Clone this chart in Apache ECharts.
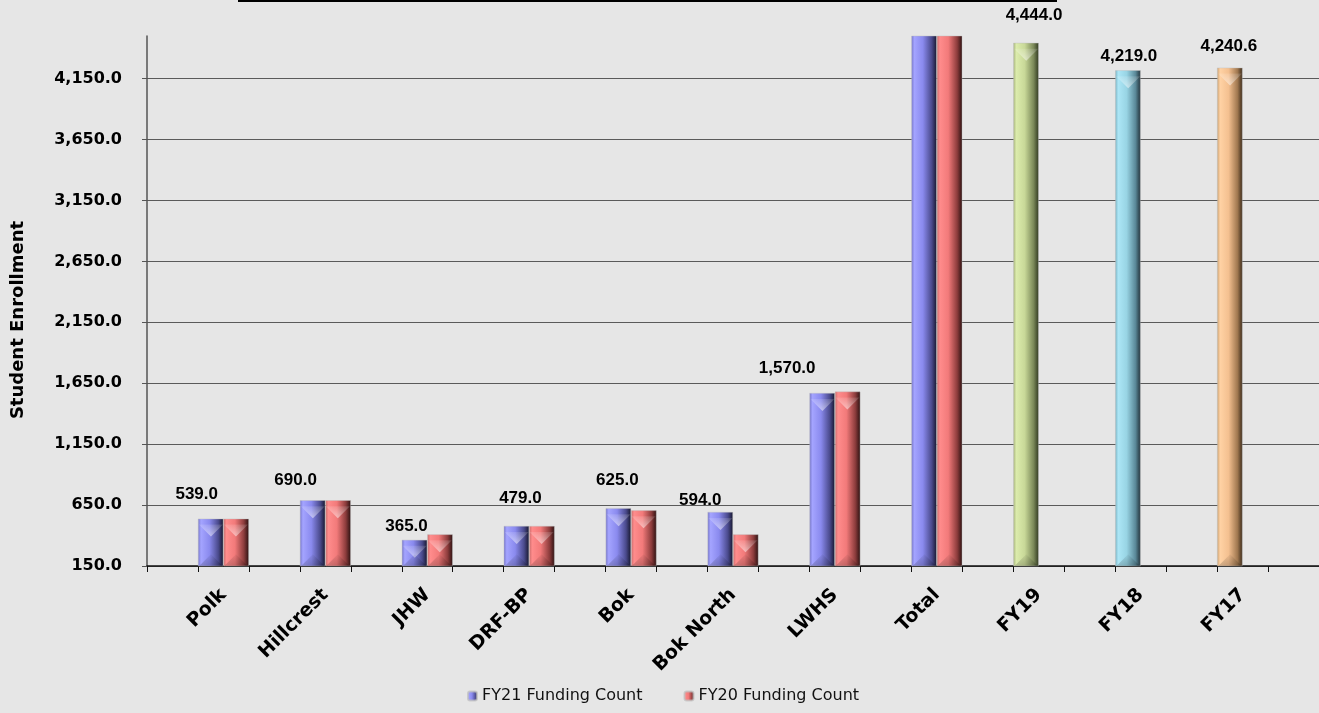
<!DOCTYPE html>
<html>
<head>
<meta charset="utf-8">
<script src="https://cdn.jsdelivr.net/npm/echarts@6/dist/echarts.min.js"></script>
<style>
html,body{margin:0;padding:0;background:#e6e6e6;}
#chart{width:1319px;height:713px;}
</style>
</head>
<body>
<div id="chart"></div>
<script>
// ---- data ----
const categories = ['Polk','Hillcrest','JHW','DRF-BP','Bok','Bok North','LWHS','Total','FY19','FY18','FY17'];
const fy21Values = [539, 690, 365, 479, 625, 594, 1570, 4862, 4444, 4219, 4240.6];
const fy20Values = [539, 690, 410, 479, 607, 410, 1582, 4717, null, null, null];
const seriesNames = ['FY21 Funding Count', 'FY20 Funding Count'];
const yTicks = [150, 650, 1150, 1650, 2150, 2650, 3150, 3650, 4150];

// ---- styling (not data) ----
function grad(stops){
  return {type:'linear',x:0,y:0,x2:1,y2:0,colorStops:stops.map((c,i)=>({offset:[0,0.12,0.45,0.8,1][i],color:c}))};
}
const blue = grad(['#7474c8','#a4a4ff','#8a8aee','#4a4a8c','#16162c']);
const red = grad(['#c86a6a','#ff8c8c','#f27a7a','#8c3c3c','#2a1010']);
const itemColors = {
  'FY19': grad(['#a4b07a','#dcecac','#c8d898','#7a8858','#303820']),
  'FY18': grad(['#7ab0c0','#ace6f6','#98d4e4','#5a8898','#203038']),
  'FY17': grad(['#c8a070','#ffd2a4','#f4c090','#a07850','#382818'])
};
// label nudges [dx, dy] per category (styling)
const labelNudge = {
  'Polk':[-14,-11],'Hillcrest':[-17,-6],'JHW':[-8,0],'DRF-BP':[4,-14],'Bok':[-1,-14],
  'Bok North':[-20,2],'LWHS':[-35,-11],'FY19':[8,-14],'FY18':[1,0],'FY17':[-1,-8]
};
const clippedCats = ['Total']; // bars run past the axis top: no label / bevel shown

const fmt = v => v.toLocaleString('en-US',{minimumFractionDigits:1,maximumFractionDigits:1});

// expanded axis with blank spacer categories between
const axisCats = ['_0'];
const s21 = [null], s20 = [null], b21 = [null], b20 = [null], f21 = [null], f20 = [null];
categories.forEach((c,i)=>{
  axisCats.push(c); axisCats.push('_'+(i+1));
  const item21 = {value: fy21Values[i]};
  if (itemColors[c]) item21.itemStyle = {color: itemColors[c]};
  item21.label = labelNudge[c] ? {show:true, offset: labelNudge[c]} : {show:false};
  s21.push(item21); s21.push(null);
  s20.push(fy20Values[i] == null ? null : {value: fy20Values[i]}); s20.push(null);
  const clipped = clippedCats.indexOf(c) >= 0;
  b21.push(clipped ? null : fy21Values[i]); b21.push(null);
  b20.push(clipped || fy20Values[i] == null ? null : fy20Values[i]); b20.push(null);
  f21.push(fy21Values[i]); f21.push(null);
  f20.push(fy20Values[i]); f20.push(null);
});

const topBevel = {type:'linear',x:0,y:0,x2:0,y2:1,colorStops:[{offset:0,color:'rgba(255,255,255,0.5)'},{offset:1,color:'rgba(255,255,255,0.12)'}]};
const bottomBevel = {type:'linear',x:0,y:0,x2:0,y2:1,colorStops:[{offset:0,color:'rgba(0,0,0,0.04)'},{offset:1,color:'rgba(0,0,0,0.2)'}]};
function bevel(name, data, side, pos){
  return {
    name:name, type:'pictorialBar', data:data, z:5, silent:true,
    symbol:'triangle', symbolRotate: pos==='end' ? 180 : 0,
    symbolPosition: pos, symbolSize:[24, 12],
    symbolOffset:[side*52+'%', pos==='end' ? '50%' : '-150%'],
    itemStyle:{color: pos==='end' ? topBevel : bottomBevel},
    label:{show:false}
  };
}

const chart = echarts.init(document.getElementById('chart'));
chart.setOption({
  backgroundColor:'#e6e6e6',
  animation:false,
  grid:{left:147, top:36, right:0, bottom:147, containLabel:false},
  legend:{
    data: seriesNames,
    left: 462, bottom: 4,
    itemWidth: 9, itemHeight: 9, itemGap: 41,
    textStyle:{fontFamily:'DejaVu Sans', fontSize:16, color:'#111'}
  },
  xAxis:{
    type:'category',
    data: axisCats,
    axisLine:{lineStyle:{color:'#111', width:1.5}},
    axisTick:{show:true, interval:0, length:6, lineStyle:{color:'#111'}},
    axisLabel:{
      interval:0, rotate:45, margin:26,
      fontFamily:'DejaVu Sans', fontWeight:'bold', fontSize:19, color:'#000',
      formatter: v => v.charAt(0)==='_' ? '' : v
    },
    splitLine:{show:false}
  },
  yAxis:{
    type:'value',
    min: yTicks[0], max: 4500, interval: 500,
    name:'Student Enrollment', nameLocation:'middle', nameGap:120, nameRotate:90,
    nameTextStyle:{fontFamily:'DejaVu Sans', fontWeight:'bold', fontSize:18, color:'#000', padding:[0,38,0,0]},
    axisLine:{show:true, lineStyle:{color:'#555', width:1.5}},
    axisTick:{show:true, length:5, lineStyle:{color:'#555'}},
    axisLabel:{
      margin:25, fontFamily:'DejaVu Sans', fontWeight:'bold', fontSize:16, color:'#000',
      showMaxLabel:false,
      formatter: v => yTicks.indexOf(v) >= 0 ? fmt(v) : ''
    },
    splitLine:{show:true, showMaxLine:false, lineStyle:{color:'#5a5a5a', width:1.2}}
  },
  series:[
    {
      name: seriesNames[0], type:'bar', data: s21,
      barGap:'0%', barCategoryGap:'0%', clip:true,
      itemStyle:{color: blue, borderColor:'rgba(190,190,190,0.7)', borderWidth:0.6},
      label:{show:true, position:'top', distance:5,
        fontFamily:'Liberation Sans', fontWeight:'bold', fontSize:17, color:'#000',
        formatter: p => fmt(p.value)}
    },
    {
      name: seriesNames[1], type:'bar', data: s20,
      barGap:'0%', barCategoryGap:'0%', clip:true,
      itemStyle:{color: red, borderColor:'rgba(190,190,190,0.7)', borderWidth:0.6}
    },
    bevel('bevelTop21', b21, -1, 'end'),
    bevel('bevelTop20', b20, 1, 'end'),
    bevel('bevelBot21', f21, -1, 'start'),
    bevel('bevelBot20', f20, 1, 'start')
  ],
  graphic:[
    {type:'rect', left:238, top:0, shape:{width:819, height:2}, style:{fill:'#000'}, silent:true}
  ]
});
</script>
</body>
</html>
